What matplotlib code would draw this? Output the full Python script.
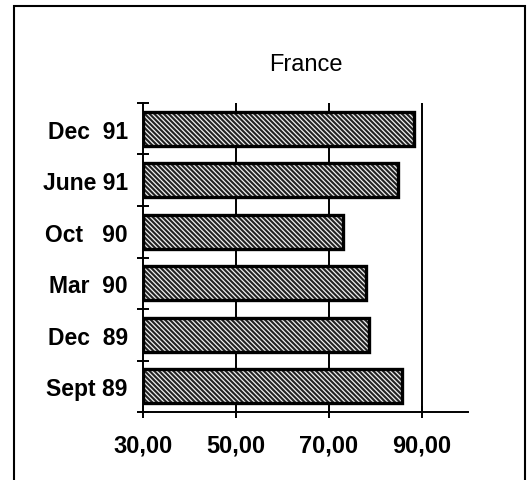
import matplotlib.pyplot as plt
import matplotlib.patches as mpatches
import numpy as np

plt.rcParams['font.family'] = ['Liberation Sans', 'DejaVu Sans']
plt.rcParams['hatch.linewidth'] = 0.9

# data, bottom to top
periods = ["Sept 89", "Dec  89", "Mar  90", "Oct   90", "June 91", "Dec  91"]
values = [85.7, 78.6, 78.0, 73.0, 84.9, 88.3]
xticks = [30, 50, 70, 90]

fig = plt.figure(figsize=(5.3, 4.81), dpi=100)
ax = fig.add_axes([0.270, 0.141, 0.613, 0.643])

y = np.arange(len(periods))
# hatched fill (white stripes on dark grey), then black outline
ax.barh(y, np.array(values) - 30, left=30, height=0.66, color="#222222",
        edgecolor="#f0f0f0", hatch="\\" * 7, linewidth=0, zorder=3)
ax.barh(y, np.array(values) - 30, left=30, height=0.66, fill=False,
        edgecolor="black", linewidth=2.4, zorder=4)

ax.set_xlim(30, 100)
ax.set_ylim(-0.5, len(periods) - 0.5)

for v in xticks[1:]:
    ax.axvline(v, color="black", linewidth=1.4, zorder=1)

ax.spines["top"].set_visible(False)
ax.spines["right"].set_visible(False)
ax.spines["left"].set_linewidth(1.4)
ax.spines["bottom"].set_linewidth(1.4)

ax.set_xticks(xticks)
ax.set_xticklabels([f"{v:.2f}".replace(".", ",") for v in xticks],
                   fontsize=17, fontweight="bold")
ax.tick_params(axis="x", direction="inout", length=9, width=1.4, pad=11)

ax.set_yticks(y)
ax.set_yticklabels(periods, fontsize=16.5, fontweight="bold")
ax.tick_params(axis="y", which="major", length=0, pad=11)
ax.set_yticks(np.arange(len(periods) + 1) - 0.5, minor=True)
ax.tick_params(axis="y", which="minor", direction="inout", length=9, width=1.4)

ax.set_title("France", fontsize=17, pad=24)

# frame around the whole chart
fig.patches.append(mpatches.Rectangle((0.026, -0.01), 0.965, 0.995,
                                      transform=fig.transFigure, fill=False,
                                      edgecolor="black", linewidth=1.5))

fig.savefig("out.png", dpi=100)
